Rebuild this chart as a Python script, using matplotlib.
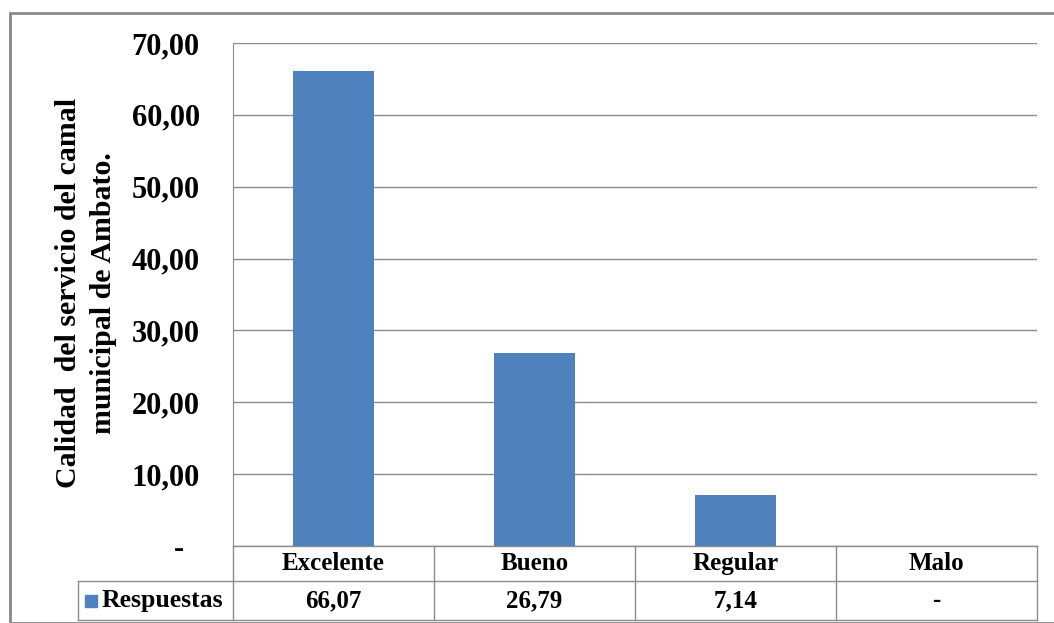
import matplotlib.pyplot as plt
from matplotlib.patches import Rectangle
import numpy as np

# datos
categorias = ['Excelente', 'Bueno', 'Regular', 'Malo']
respuestas = [66.07, 26.79, 7.14, 0.0]
serie = 'Respuestas'
titulo_y = 'Calidad  del servicio del camal\nmunicipal de Ambato.'
yticks = [0, 10, 20, 30, 40, 50, 60, 70]

azul = '#4F81BD'
gris = '#8C8C8C'

def fmt(v):
    # formato contable de Excel: coma decimal y guion para cero
    if v == 0:
        return '-'
    return ('%.2f' % v).replace('.', ',')

plt.rcParams['font.family'] = ['Liberation Serif', 'DejaVu Serif']
plt.rcParams['font.weight'] = 'bold'

W, H = 1054, 623
fig = plt.figure(figsize=(W / 100, H / 100), dpi=100)

# area de trazado (pixeles)
x0, x1, ytop, ybot = 233, 1037, 43, 546
ax = fig.add_axes([x0 / W, (H - ybot) / H, (x1 - x0) / W, (ybot - ytop) / H])

x = np.arange(len(categorias))
ax.bar(x, respuestas, width=0.4, color=azul, zorder=3)

ax.set_xlim(-0.5, len(categorias) - 0.5)
ax.set_ylim(0, 70)
ax.set_yticks(yticks)
ax.set_yticklabels([fmt(v) + ('  ' if v == 0 else '') for v in yticks],
                   fontsize=22, fontweight='bold')
ax.tick_params(axis='y', length=0, pad=24)
ax.set_xticks([])
ax.grid(axis='y', color=gris, linewidth=1, zorder=0)
for s in ['top', 'right', 'bottom']:
    ax.spines[s].set_visible(False)
ax.spines['left'].set_color(gris)

# tabla de datos debajo del grafico
alto = ybot - ytop
r1 = -(581 - ybot) / alto
r2 = -(620 - ybot) / alto
px_u = (x1 - x0) / len(categorias)
xl = -0.5 - (x0 - 78) / px_u
trans = ax.get_xaxis_transform()
kw = dict(color=gris, lw=1, transform=trans, clip_on=False)
ax.plot([-0.5, len(categorias) - 0.5], [0, 0], **kw)
ax.plot([xl, len(categorias) - 0.5], [r1, r1], **kw)
ax.plot([xl, len(categorias) - 0.5], [r2, r2], **kw)
ax.plot([xl, xl], [r1, r2], **kw)
for b in np.arange(len(categorias) + 1) - 0.5:
    ax.plot([b, b], [0, r2], **kw)

for i, (c, v) in enumerate(zip(categorias, respuestas)):
    ax.text(i, r1 / 2, c, transform=trans, ha='center', va='center',
            fontsize=18, fontweight='bold')
    ax.text(i, (r1 + r2) / 2, fmt(v), transform=trans, ha='center', va='center',
            fontsize=18, fontweight='bold')

ax.plot([xl + 0.065], [(r1 + r2) / 2], marker='s', markersize=9, color=azul,
        transform=trans, clip_on=False)
ax.text(xl + 0.115, (r1 + r2) / 2, serie, transform=trans, ha='left', va='center',
        fontsize=18.5, fontweight='bold')

# titulo del eje y
fig.text(86 / W, 1 - 293 / H, titulo_y, rotation=90, ha='center', va='center',
         multialignment='center', fontsize=21.5, fontweight='bold', linespacing=1.35)

# borde exterior
fig.add_artist(Rectangle((10 / W, 0), 1.2, 1 - 13 / H, transform=fig.transFigure,
                         fill=False, edgecolor='#888888', lw=2))

fig.savefig('out.png', dpi=100)
